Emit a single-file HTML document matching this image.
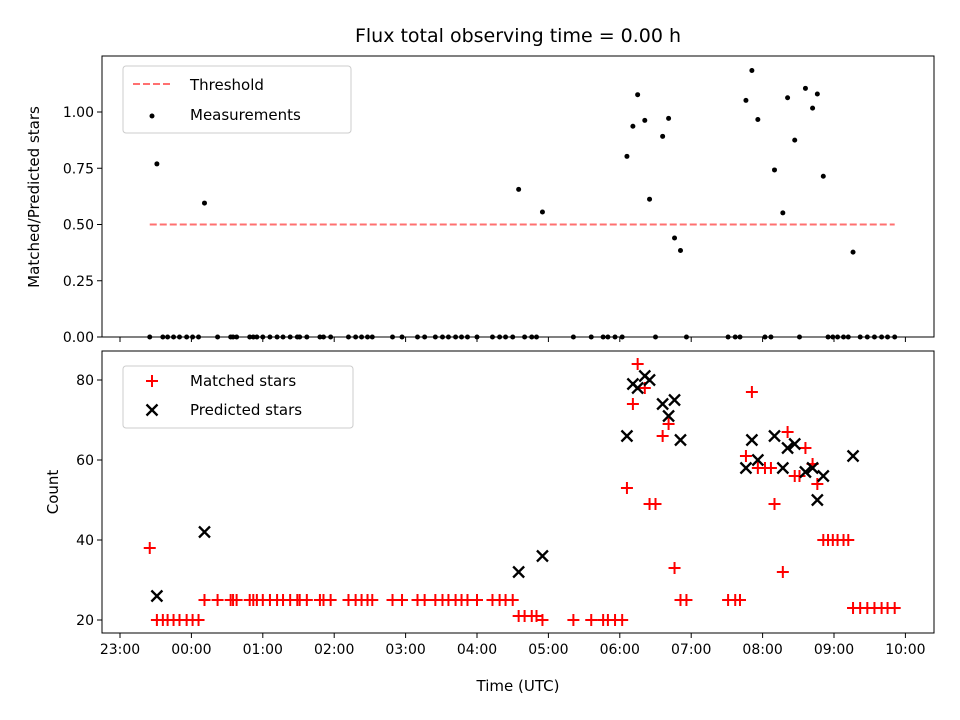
<!DOCTYPE html>
<html><head><meta charset="utf-8"><style>
html,body{margin:0;padding:0;background:#fff;}
svg{display:block;font-family:"DejaVu Sans","Liberation Sans",sans-serif;}
</style></head><body>
<svg id="chart" width="960" height="720" viewBox="0 0 960 720" xmlns="http://www.w3.org/2000/svg">
<text x="518" y="42" font-size="19" text-anchor="middle">Flux total observing time = 0.00 h</text>
<g id="topPanel"></g><g id="botPanel"></g>
</svg>
<script>
// minutes after 23:00
const times=[25,31,36,40,45,50,56,61,66,71,82,93,95,98,109,112,115,120,126,132,137,143,149,151,157,168,171,177,192,198,203,208,212,229,237,250,256,265,271,276,282,287,292,300,313,319,324,330,335,340,346,350,355,381,396,406,410,416,422,426,431,435,441,445,450,456,461,466,471,476,511,517,521,526,531,536,542,547,550,557,561,567,571,576,582,586,591,595,599,603,608,612,616,622,628,634,640,645,651];
const matched=[38,20,20,20,20,20,20,20,20,25,25,25,25,25,25,25,25,25,25,25,25,25,25,25,25,25,25,25,25,25,25,25,25,25,25,25,25,25,25,25,25,25,25,25,25,25,25,25,21,21,21,21,20,20,20,20,20,20,20,53,74,84,78,49,49,66,69,33,25,25,25,25,25,61,77,58,58,58,49,32,67,56,56,63,59,54,40,40,40,40,40,40,23,23,23,23,23,23,23];
const predicted=[0,26,0,0,0,0,0,0,0,42,0,0,0,0,0,0,0,0,0,0,0,0,0,0,0,0,0,0,0,0,0,0,0,0,0,0,0,0,0,0,0,0,0,0,0,0,0,0,32,0,0,0,36,0,0,0,0,0,0,66,79,78,81,80,0,74,71,75,65,0,0,0,0,58,65,60,0,0,66,58,63,64,0,57,58,50,56,0,0,0,0,0,61,0,0,0,0,0,0];
const xTickLabels=["23:00","00:00","01:00","02:00","03:00","04:00","05:00","06:00","07:00","08:00","09:00","10:00"];
const topTicks=[0,0.25,0.5,0.75,1.0];
const botTicks=[20,40,60,80];
const threshold=0.5;

const NS="http://www.w3.org/2000/svg";
const X0=102,X1=934;
const xs=m=>120+m/60*71.4;
const yTop=v=>337-v*225;
const yBot=c=>620-(c-20)*4;
function mk(tag,attrs,parent,txt){const e=document.createElementNS(NS,tag);for(const k in attrs)e.setAttribute(k,attrs[k]);if(txt!==undefined)e.textContent=txt;parent.appendChild(e);return e;}
const gTop=document.getElementById('topPanel'),gBot=document.getElementById('botPanel');

function axes(g,y0,y1,labels,name){
  const r=mk('rect',{x:X0,y:y0,width:X1-X0,height:y1-y0,fill:'none',stroke:'#000','stroke-width':1},g);
  
  
  xTickLabels.forEach((l,i)=>{const x=xs(i*60);
    const t=mk('line',{x1:x,x2:x,y1:y1,y2:y1+5,stroke:'#000'},g);
    
    
    if(labels){const tx=mk('text',{x:x,y:y1+21,'font-size':14,'text-anchor':'middle'},g,l);
      
      }
  });
}
axes(gTop,56,337,false,'top-axes');
axes(gBot,351,633,true,'bottom-axes');
topTicks.forEach(v=>{const y=yTop(v);
  const t=mk('line',{x1:X0-5,x2:X0,y1:y,y2:y,stroke:'#000'},gTop);
  
  
  const tx=mk('text',{x:X0-8,y:y+5,'font-size':14,'text-anchor':'end'},gTop,v.toFixed(2));
  
  });
botTicks.forEach(v=>{const y=yBot(v);
  const t=mk('line',{x1:X0-5,x2:X0,y1:y,y2:y,stroke:'#000'},gBot);
  
  
  const tx=mk('text',{x:X0-8,y:y+5,'font-size':14,'text-anchor':'end'},gBot,String(v));
  
  });

const th=mk('line',{x1:xs(times[0]),x2:xs(times[times.length-1]),y1:yTop(threshold),y2:yTop(threshold),stroke:'#ff7070','stroke-width':2,'stroke-dasharray':'7,3'},gTop);


times.forEach((m,i)=>{const r=predicted[i]?matched[i]/predicted[i]:0;
  const c=mk('circle',{cx:xs(m),cy:yTop(r),r:2.5,fill:'#000'},gTop);
  
  });
function plus(g,x,y,col){return mk('path',{d:`M${x-6} ${y}H${x+6}M${x} ${y-6}V${y+6}`,stroke:col,'stroke-width':2,fill:'none'},g);}
function cross(g,x,y,col){return mk('path',{d:`M${x-5.5} ${y-5.5}L${x+5.5} ${y+5.5}M${x-5.5} ${y+5.5}L${x+5.5} ${y-5.5}`,stroke:col,'stroke-width':2.3,fill:'none'},g);}
times.forEach((m,i)=>{const p=plus(gBot,xs(m),yBot(matched[i]),'#ff0000');
  
  });
times.forEach((m,i)=>{if(!predicted[i])return;const p=cross(gBot,xs(m),yBot(predicted[i]),'#000');
  
  });

const yl1=mk('text',{x:0,y:0,'font-size':15,'text-anchor':'middle',transform:'translate(39,197) rotate(-90)'},gTop,'Matched/Predicted stars');


const yl2=mk('text',{x:0,y:0,'font-size':15,'text-anchor':'middle',transform:'translate(58,492) rotate(-90)'},gBot,'Count');


const xl=mk('text',{x:518,y:691,'font-size':15,'text-anchor':'middle'},gBot,'Time (UTC)');



const lg1=mk('g',{},gTop);


mk('rect',{x:123,y:66,width:228,height:67,rx:3,fill:'#fff','fill-opacity':0.8,stroke:'#ccc'},lg1);
mk('line',{x1:133,x2:171,y1:84,y2:84,stroke:'#ff7070','stroke-width':2,'stroke-dasharray':'7,3'},lg1);
mk('text',{x:190,y:90,'font-size':15},lg1,'Threshold');
mk('circle',{cx:152,cy:116,r:2.5,fill:'#000'},lg1);
mk('text',{x:190,y:120,'font-size':15},lg1,'Measurements');
const lg2=mk('g',{},gBot);


mk('rect',{x:123,y:366,width:230,height:62,rx:3,fill:'#fff','fill-opacity':0.8,stroke:'#ccc'},lg2);
plus(lg2,152,381,'#ff0000');
mk('text',{x:190,y:386,'font-size':15},lg2,'Matched stars');
cross(lg2,152,410,'#000');
mk('text',{x:190,y:415,'font-size':15},lg2,'Predicted stars');
</script>
</body></html>
